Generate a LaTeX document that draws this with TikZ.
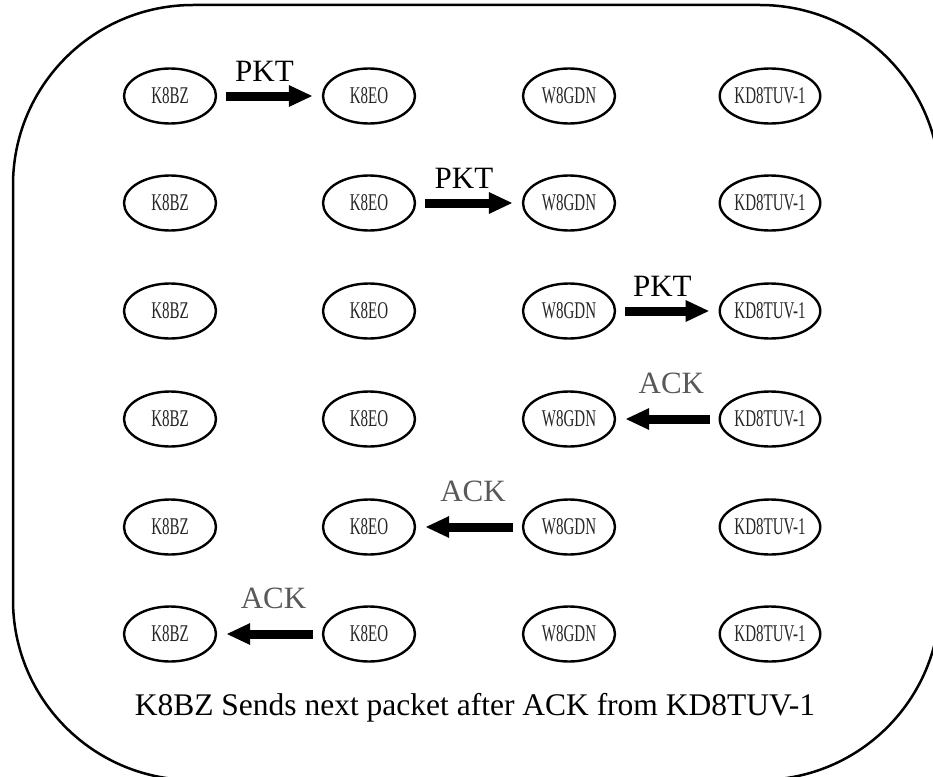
\documentclass[tikz,border=0pt]{standalone}
\usepackage{fontspec}
\setmainfont{Liberation Serif}
\newfontfamily\narrowserif[FakeStretch=0.625]{Liberation Serif}
\usetikzlibrary{shapes.geometric}
\usetikzlibrary{arrows.meta}
\definecolor{labelgray}{gray}{0.15}
\definecolor{ackgray}{gray}{0.35}
\tikzstyle{station}=[draw, ellipse, line width=2.4pt, minimum width=92pt, minimum height=55pt, inner sep=0, text=labelgray, font=\narrowserif\fontsize{24}{24}\selectfont]
\tikzstyle{hop}=[line width=9pt, -{Triangle[length=24pt, width=20pt]}, shorten >=9pt, shorten <=9pt]
\tikzstyle{pkt label}=[font=\fontsize{31}{31}\selectfont, yshift=25pt, xshift=-5pt]
\tikzstyle{ack label}=[font=\fontsize{31}{31}\selectfont, text=ackgray, yshift=36pt, xshift=4pt]
\tikzstyle{frame}=[line width=2.5pt, rounded corners=180pt]

\begin{document}
\begin{tikzpicture}[x=1pt, y=-1pt]
          \useasboundingbox (0, 0) rectangle (933, 776);
          \draw[frame] (13, 5) rectangle (940, 780);

          % row 1: K8BZ -> K8EO
          \node[station] (bz_1) at (170, 96) {K8BZ};
          \node[station] (eo_1) at (369, 96) {K8EO};
          \node[station] (gdn_1) at (569, 96) {W8GDN};
          \node[station] (tuv_1) at (770, 96) {KD8TUV-1};
          % row 2: K8EO -> W8GDN
          \node[station] (bz_2) at (170, 203) {K8BZ};
          \node[station] (eo_2) at (369, 203) {K8EO};
          \node[station] (gdn_2) at (569, 203) {W8GDN};
          \node[station] (tuv_2) at (770, 203) {KD8TUV-1};
          % row 3: W8GDN -> KD8TUV-1
          \node[station] (bz_3) at (170, 311) {K8BZ};
          \node[station] (eo_3) at (369, 311) {K8EO};
          \node[station] (gdn_3) at (569, 311) {W8GDN};
          \node[station] (tuv_3) at (770, 311) {KD8TUV-1};
          % row 4: ack back to W8GDN
          \node[station] (bz_4) at (170, 419) {K8BZ};
          \node[station] (eo_4) at (369, 419) {K8EO};
          \node[station] (gdn_4) at (569, 419) {W8GDN};
          \node[station] (tuv_4) at (770, 419) {KD8TUV-1};
          % row 5: ack back to K8EO
          \node[station] (bz_5) at (170, 527) {K8BZ};
          \node[station] (eo_5) at (369, 527) {K8EO};
          \node[station] (gdn_5) at (569, 527) {W8GDN};
          \node[station] (tuv_5) at (770, 527) {KD8TUV-1};
          % row 6: ack back to K8BZ
          \node[station] (bz_6) at (170, 634) {K8BZ};
          \node[station] (eo_6) at (369, 634) {K8EO};
          \node[station] (gdn_6) at (569, 634) {W8GDN};
          \node[station] (tuv_6) at (770, 634) {KD8TUV-1};

          \draw[hop] (bz_1) -- (eo_1) node[midway, pkt label] {PKT};
          \draw[hop] (eo_2) -- (gdn_2) node[midway, pkt label] {PKT};
          \draw[hop] (gdn_3) -- (tuv_3) node[midway, pkt label] {PKT};
          \draw[hop] (tuv_4) -- (gdn_4) node[midway, ack label] {ACK};
          \draw[hop] (gdn_5) -- (eo_5) node[midway, ack label] {ACK};
          \draw[hop] (eo_6) -- (bz_6) node[midway, ack label] {ACK};

          \node[anchor=base, font=\fontsize{31.5}{31.5}\selectfont] (note) at (475, 715)
            {K8BZ Sends next packet after ACK from KD8TUV-1};
        \end{tikzpicture}
\end{document}
